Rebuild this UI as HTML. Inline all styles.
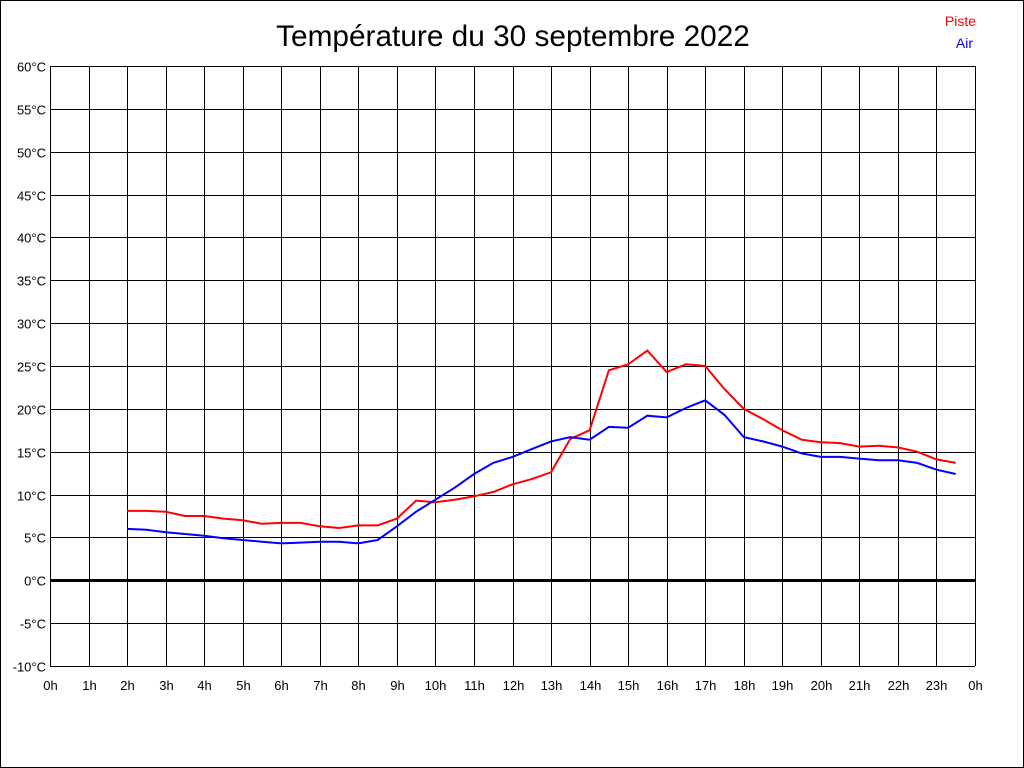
<!DOCTYPE html>
<html><head><meta charset="utf-8"><style>
html,body{margin:0;padding:0;background:#fff;}
svg{display:block;font-family:"Liberation Sans",sans-serif;}
</style></head><body>
<svg id="chart" width="1024" height="768" viewBox="0 0 1024 768">
<rect x="0.5" y="0.5" width="1023" height="767" fill="#fff" stroke="#000"/>
<text x="513" y="46" font-size="29.8" text-anchor="middle">Température du 30 septembre 2022</text>
<text x="976" y="26" font-size="14" fill="#f00" text-anchor="end">Piste</text>
<text x="973" y="48" font-size="14" fill="#00f" text-anchor="end">Air</text>
<g id="grid"></g><g id="series"></g>
</svg>
<script>
const hours = [2,2.5,3,3.5,4,4.5,5,5.5,6,6.5,7,7.5,8,8.5,9,9.5,10,10.5,11,11.5,12,12.5,13,13.5,14,14.5,15,15.5,16,16.5,17,17.5,18,18.5,19,19.5,20,20.5,21,21.5,22,22.5,23,23.5];
const piste = [8.1,8.1,8.0,7.5,7.5,7.2,7.0,6.6,6.7,6.7,6.3,6.1,6.4,6.4,7.2,9.3,9.1,9.4,9.8,10.3,11.2,11.8,12.6,16.5,17.5,24.5,25.2,26.8,24.3,25.2,25.0,22.3,20.0,18.8,17.5,16.4,16.1,16.0,15.6,15.7,15.5,15.0,14.1,13.7];
const air = [6.0,5.9,5.6,5.4,5.2,4.9,4.7,4.5,4.3,4.4,4.5,4.5,4.3,4.7,6.3,8.0,9.4,10.8,12.4,13.7,14.4,15.3,16.2,16.7,16.4,17.9,17.8,19.2,19.0,20.1,21.0,19.3,16.7,16.2,15.6,14.8,14.4,14.4,14.2,14.0,14.0,13.7,12.9,12.4];
const yTicks = [60,55,50,45,40,35,30,25,20,15,10,5,0,-5,-10];
const xTicks = ["0h","1h","2h","3h","4h","5h","6h","7h","8h","9h","10h","11h","12h","13h","14h","15h","16h","17h","18h","19h","20h","21h","22h","23h","0h"];
const X0=50,X1=975,Y0=66,Y1=666,YMAX=60,YMIN=-10;
const xs=h=>X0+(X1-X0)*h/24;
const ys=v=>Y0+(Y1-Y0)*(YMAX-v)/(YMAX-YMIN);
const NS="http://www.w3.org/2000/svg";
const grid=document.getElementById('grid'), ser=document.getElementById('series');
function mk(tag,attrs,parent){const e=document.createElementNS(NS,tag);for(const k in attrs)e.setAttribute(k,attrs[k]);parent.appendChild(e);return e;}
yTicks.forEach(v=>{
  const y=Math.round(ys(v))+0.5;
  const l=mk('line',{x1:X0,x2:X1,y1:y,y2:y,stroke:'#000','stroke-width':v===0?3:1},grid);
  
  
  const t=mk('text',{x:46,y:y+5,'font-size':13,'text-anchor':'end'},grid);
  
  
  t.textContent=v+'°C';
});
xTicks.forEach((s,i)=>{
  const x=Math.round(xs(i))+0.5;
  const l=mk('line',{x1:x,x2:x,y1:Y0,y2:Y1,stroke:'#000','stroke-width':1},grid);
  
  
  const t=mk('text',{x:x,y:690,'font-size':13,'text-anchor':'middle'},grid);
  
  
  t.textContent=s;
});
function line(vals,color,name){
  const p=mk('polyline',{points:hours.map((h,i)=>xs(h).toFixed(1)+','+ys(vals[i]).toFixed(1)).join(' '),fill:'none',stroke:color,'stroke-width':2},ser);
  
  
}
line(piste,'#f00','piste-line');
line(air,'#00f','air-line');
</script>
</body></html>
